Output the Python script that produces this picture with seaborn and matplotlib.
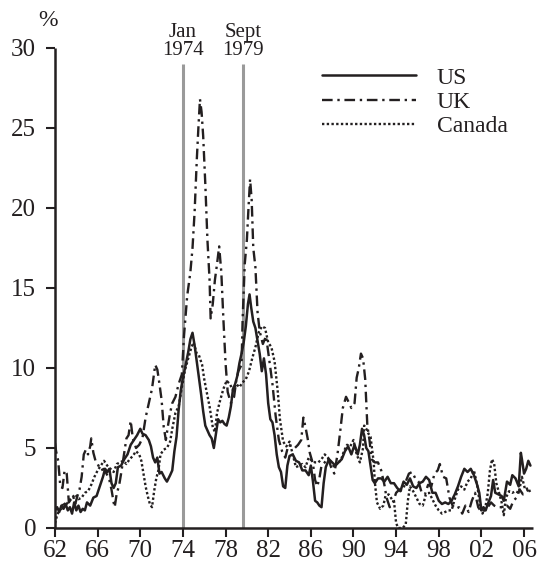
import matplotlib
matplotlib.use("Agg")
import matplotlib.pyplot as plt
import seaborn as sns
import pandas as pd

# ---------------- data ----------------
us_t = [1962.0,1962.2,1962.4,1962.6,1962.8,1963.0,1963.2,1963.4,1963.6,1963.8,1964.0,1964.2,1964.4,1964.6,1964.8,
        1965.0,1965.3,1965.6,1965.9,1966.2,1966.5,1966.7,1966.9,1967.1,1967.3,1967.5,1967.7,1967.9,1968.2,1968.5,
        1968.8,1969.1,1969.4,1969.7,1970.0,1970.2,1970.5,1970.8,1971.0,1971.2,1971.4,1971.6,1971.8,1972.0,1972.3,
        1972.5,1972.8,1973.0,1973.2,1973.4,1973.6,1973.8,1974.0,1974.2,1974.5,1974.7,1974.9,1975.1,1975.3,1975.5,
        1975.7,1975.9,1976.1,1976.3,1976.5,1976.7,1976.9,1977.1,1977.3,1977.5,1977.7,1977.9,1978.1,1978.3,1978.5,
        1978.7,1978.9,1979.1,1979.3,1979.5,1979.7,1979.9,1980.1,1980.25,1980.4,1980.6,1980.8,1981.0,1981.2,1981.4,
        1981.6,1981.8,1982.0,1982.2,1982.4,1982.6,1982.8,1983.0,1983.2,1983.4,1983.6,1983.8,1984.0,1984.3,1984.6,
        1984.9,1985.2,1985.5,1985.8,1986.0,1986.2,1986.4,1986.6,1986.8,1987.0,1987.2,1987.4,1987.7,1988.0,1988.3,
        1988.6,1988.9,1989.2,1989.5,1989.8,1990.1,1990.4,1990.6,1990.8,1991.0,1991.2,1991.4,1991.6,1991.8,1992.0,
        1992.3,1992.6,1992.9,1993.2,1993.5,1993.8,1994.1,1994.4,1994.7,1995.0,1995.3,1995.6,1995.9,1996.2,1996.5,
        1996.8,1997.1,1997.4,1997.7,1998.0,1998.3,1998.6,1998.9,1999.2,1999.5,1999.8,2000.1,2000.4,2000.7,2001.0,
        2001.3,2001.6,2001.8,2002.0,2002.2,2002.4,2002.6,2002.9,2003.1,2003.3,2003.6,2003.9,2004.1,2004.4,2004.7,
        2004.9,2005.2,2005.5,2005.7,2005.8,2006.0,2006.2,2006.4,2006.6]
us_v = [1.1,1.3,1.0,1.4,1.2,1.5,1.1,1.3,0.9,1.6,1.1,1.4,1.0,1.2,1.1,
        1.6,1.4,1.9,2.0,2.6,3.2,3.7,3.5,3.7,2.8,2.5,2.8,3.8,3.9,4.3,
        4.6,5.2,5.5,5.8,6.2,5.9,5.8,5.5,5.1,4.4,4.1,4.4,3.4,3.5,3.1,
        2.9,3.3,3.6,4.8,5.7,7.4,8.6,9.4,10.0,11.0,11.8,12.2,11.4,10.4,9.4,
        8.4,7.3,6.4,6.1,5.8,5.6,5.0,5.9,6.8,6.6,6.7,6.5,6.4,6.9,7.6,
        8.7,9.0,9.5,10.3,10.9,11.6,12.6,14.0,14.6,13.8,12.9,12.5,11.7,10.9,9.8,
        10.6,9.6,7.8,6.8,6.6,5.8,4.6,3.8,3.5,2.6,2.5,3.9,4.5,4.6,4.2,
        4.1,3.6,3.6,3.3,3.9,2.9,1.7,1.6,1.4,1.3,2.8,3.8,4.3,4.1,3.9,
        4.1,4.3,4.8,5.1,4.6,5.2,4.6,5.2,6.2,5.8,5.0,4.8,3.9,3.0,2.8,
        3.1,3.1,2.9,3.2,2.8,2.8,2.5,2.3,2.9,2.7,3.1,2.6,2.5,2.8,2.9,
        3.2,3.0,2.2,2.2,1.7,1.5,1.6,1.5,1.7,2.1,2.6,3.2,3.7,3.5,3.7,
        3.3,2.7,2.2,1.1,1.3,1.1,1.5,2.0,3.0,2.2,2.1,2.0,1.7,2.9,2.7,
        3.3,3.1,2.6,4.7,4.3,3.4,3.7,4.2,3.9]

uk_t = [1962.0,1962.1,1962.3,1962.5,1962.7,1962.9,1963.1,1963.3,1963.5,1963.7,1963.9,1964.1,1964.3,1964.5,1964.7,
        1964.9,1965.1,1965.3,1965.4,1965.6,1965.8,1966.0,1966.3,1966.6,1966.9,1967.1,1967.3,1967.5,1967.6,1967.8,
        1968.0,1968.2,1968.5,1968.7,1968.9,1969.1,1969.3,1969.6,1969.9,1970.2,1970.5,1970.8,1971.1,1971.4,1971.6,
        1971.8,1972.0,1972.2,1972.4,1972.6,1972.8,1973.0,1973.3,1973.6,1973.9,1974.1,1974.4,1974.7,1974.9,1975.1,
        1975.3,1975.45,1975.6,1975.75,1975.9,1976.1,1976.3,1976.5,1976.6,1976.8,1977.0,1977.2,1977.4,1977.6,1977.8,
        1978.0,1978.2,1978.5,1978.8,1979.0,1979.2,1979.5,1979.6,1979.8,1980.0,1980.15,1980.3,1980.45,1980.6,1980.8,
        1981.0,1981.2,1981.5,1981.8,1982.1,1982.4,1982.7,1983.0,1983.3,1983.6,1983.9,1984.2,1984.5,1984.8,1985.1,
        1985.3,1985.5,1985.7,1985.9,1986.2,1986.4,1986.6,1986.8,1987.0,1987.3,1987.6,1987.9,1988.2,1988.5,1988.8,
        1989.0,1989.3,1989.6,1989.8,1990.1,1990.3,1990.5,1990.7,1990.9,1991.1,1991.3,1991.5,1991.7,1992.0,1992.3,
        1992.6,1992.9,1993.1,1993.4,1993.7,1994.0,1994.3,1994.6,1994.9,1995.2,1995.5,1995.8,1996.1,1996.4,1996.7,
        1997.0,1997.3,1997.6,1997.9,1998.1,1998.4,1998.7,1999.0,1999.3,1999.6,1999.9,2000.2,2000.5,2000.8,2001.1,
        2001.4,2001.7,2002.0,2002.3,2002.6,2002.9,2003.2,2003.5,2003.8,2004.1,2004.4,2004.7,2005.0,2005.3,2005.6,
        2005.9,2006.2,2006.6]
uk_v = [5.3,4.8,4.2,2.6,2.5,3.6,3.4,1.6,1.8,2.0,1.5,2.0,2.4,3.2,4.6,
        4.9,4.6,5.1,5.6,4.7,4.2,4.0,3.6,3.7,3.3,3.0,2.4,1.6,1.3,2.2,
        2.6,3.4,4.7,5.6,5.8,6.7,5.6,5.0,5.2,5.6,6.9,7.8,8.7,10.2,9.9,
        9.0,8.0,6.3,5.5,6.4,7.2,7.8,8.2,9.0,9.6,12.0,14.5,16.0,17.5,19.8,
        23.0,25.0,26.8,26.0,24.5,21.5,18.0,15.5,13.1,14.0,15.5,16.5,17.6,16.0,13.0,
        10.3,8.5,7.8,8.2,9.2,9.8,10.2,13.0,16.5,18.0,20.0,21.8,20.5,17.5,16.3,
        13.5,12.3,11.5,12.0,10.5,9.0,7.0,5.5,4.8,4.4,5.2,5.1,5.0,5.2,5.5,
        6.9,6.3,5.6,4.7,4.0,3.0,2.6,3.1,3.9,4.1,4.4,3.8,3.4,4.6,6.3,
        7.5,8.2,7.8,7.5,7.8,9.4,10.0,10.9,10.6,9.3,6.4,5.5,4.3,4.1,4.1,
        3.6,2.7,1.9,1.3,1.6,2.2,2.4,2.3,2.9,3.4,3.5,3.1,2.9,2.2,2.1,
        2.7,2.6,3.4,3.6,4.0,3.2,3.1,1.9,1.4,1.2,1.3,0.9,1.4,1.0,1.7,
        2.2,1.3,1.0,1.1,1.3,1.6,1.4,1.3,1.3,1.3,1.4,1.2,1.7,1.9,2.4,
        2.1,2.2,2.6]

ca_t = [1962.0,1962.2,1962.4,1962.6,1962.8,1963.0,1963.3,1963.6,1963.9,1964.2,1964.5,1964.8,1965.1,1965.4,1965.7,
        1966.0,1966.3,1966.6,1966.9,1967.2,1967.5,1967.8,1968.1,1968.4,1968.7,1969.0,1969.3,1969.6,1969.9,1970.1,
        1970.3,1970.5,1970.7,1970.9,1971.1,1971.3,1971.5,1971.7,1971.9,1972.2,1972.5,1972.8,1973.0,1973.3,1973.6,
        1973.9,1974.2,1974.5,1974.8,1975.0,1975.3,1975.5,1975.8,1976.0,1976.2,1976.5,1976.8,1977.0,1977.2,1977.5,
        1977.8,1978.1,1978.4,1978.7,1979.0,1979.3,1979.6,1979.9,1980.2,1980.5,1980.8,1981.1,1981.4,1981.7,1982.0,
        1982.3,1982.6,1982.9,1983.1,1983.4,1983.7,1984.0,1984.3,1984.6,1984.9,1985.2,1985.5,1985.8,1986.1,1986.4,
        1986.7,1987.0,1987.3,1987.6,1987.9,1988.2,1988.5,1988.8,1989.1,1989.4,1989.7,1990.0,1990.3,1990.6,1990.9,
        1991.0,1991.2,1991.4,1991.6,1991.9,1992.0,1992.2,1992.5,1992.8,1993.0,1993.3,1993.6,1993.8,1994.0,1994.2,
        1994.6,1994.9,1995.1,1995.3,1995.6,1995.9,1996.2,1996.5,1996.8,1997.1,1997.4,1997.7,1998.0,1998.3,1998.6,
        1998.9,1999.2,1999.5,1999.8,2000.1,2000.4,2000.7,2001.0,2001.3,2001.6,2001.9,2002.1,2002.4,2002.6,2002.8,
        2003.0,2003.2,2003.4,2003.7,2003.9,2004.1,2004.3,2004.6,2004.9,2005.2,2005.5,2005.8,2006.1,2006.4,2006.6]
ca_v = [0.3,0.8,1.1,1.2,1.6,1.4,1.7,1.9,2.1,1.8,1.9,2.2,2.3,2.7,3.2,
        3.6,3.9,4.2,3.9,3.7,3.5,4.0,4.1,4.2,4.0,4.3,4.5,4.8,4.6,4.2,
        3.4,2.6,2.0,1.5,1.3,2.3,3.1,3.6,4.6,4.9,5.0,5.4,6.2,7.2,7.6,
        8.8,9.9,10.6,11.3,11.6,10.9,10.8,10.2,9.3,8.6,7.6,6.3,6.0,7.2,8.0,
        8.7,9.2,9.0,8.6,9.0,8.8,9.1,9.3,9.8,10.6,11.3,12.2,12.6,12.5,11.6,
        11.3,10.4,8.5,6.8,5.4,5.1,5.4,4.6,3.8,3.9,4.0,3.8,4.4,4.2,4.1,
        4.1,4.3,4.6,4.4,4.1,3.8,4.1,4.2,4.8,5.2,5.1,5.5,4.6,4.1,5.0,
        6.4,6.2,5.9,5.7,4.1,2.9,1.6,1.2,1.4,2.0,2.1,1.8,1.7,0.3,0.0,
        0.0,0.2,1.7,2.6,2.3,1.9,1.5,1.4,2.1,2.2,1.8,1.4,1.1,0.9,1.0,
        1.1,1.1,1.8,2.4,2.6,2.4,2.9,3.1,3.6,2.7,1.3,0.9,1.4,2.2,3.6,
        4.3,4.0,2.8,2.1,1.6,0.8,1.9,2.3,2.2,2.3,2.2,3.2,2.4,2.5,2.2]

series_names = ["US", "UK", "Canada"]
x_ticks = list(range(1962, 2007, 4))
x_tick_labels = ["62", "66", "70", "74", "78", "82", "86", "90", "94", "98", "02", "06"]
y_ticks = [0, 5, 10, 15, 20, 25, 30]
events = [1974.0, 1979.67]
event_labels = ["Jan\n1974", "Sept\n1979"]

# ---------------- styling ----------------
sns.set_style("ticks")
plt.rcParams["font.family"] = ["Liberation Serif", "DejaVu Serif"]
plt.rcParams["text.color"] = "#231f20"

fig = plt.figure(figsize=(5.37, 5.62), dpi=100)
ax = fig.add_axes([55 / 537, 1 - 528 / 562, (533 - 55) / 537, (528 - 48) / 562])

df_us = pd.DataFrame({"year": us_t, "rate": us_v})
df_uk = pd.DataFrame({"year": uk_t, "rate": uk_v})
df_ca = pd.DataFrame({"year": ca_t, "rate": ca_v})

ink = "#231f20"
for ev in events:
    ax.plot([ev, ev], [0, 29], color="#9a9a9a", lw=2.2, zorder=1, solid_capstyle="butt")

sns.lineplot(data=df_us, x="year", y="rate", ax=ax, color=ink, lw=1.8,
             label=series_names[0], estimator=None, sort=False, zorder=3)
sns.lineplot(data=df_uk, x="year", y="rate", ax=ax, color=ink, lw=1.7,
             linestyle=(0, (4.5, 2, 1, 2)), label=series_names[1],
             estimator=None, sort=False, zorder=3)
sns.lineplot(data=df_ca, x="year", y="rate", ax=ax, color=ink, lw=1.7,
             linestyle=(0, (1, 1)), label=series_names[2],
             estimator=None, sort=False, zorder=3)

ax.set_xlim(1962, 1962 + (533 - 55) / 10.66)
ax.set_ylim(0, 30)
ax.set_xticks(x_ticks)
ax.set_xticklabels(x_tick_labels)
ax.set_yticks(y_ticks)
ax.set_xlabel("")
ax.set_ylabel("")
for s in ["top", "right"]:
    ax.spines[s].set_visible(False)
for s in ["left", "bottom"]:
    ax.spines[s].set_linewidth(1.8)
    ax.spines[s].set_color(ink)
    ax.spines[s].set_capstyle("butt")
ax.tick_params(axis="both", direction="out", length=6.5, width=1.5, color=ink,
               labelsize=18, labelcolor=ink)
ax.tick_params(axis="y", pad=7)
ax.tick_params(axis="x", pad=2)

leg = ax.legend(loc="upper left", bbox_to_anchor=((322 - 55) / 478, 1 - (67 - 48) / 480),
                frameon=False, fontsize=17, handlelength=4.0, handletextpad=0.85,
                labelspacing=0.12, borderaxespad=0, borderpad=0)
for t in leg.get_texts():
    t.set_color(ink)

fig.text(48 / 537, 1 - 20 / 562, "%", ha="center", va="center", fontsize=17, color=ink)
for ev, lab in zip(events, event_labels):
    ax.annotate(lab, xy=(ev, 29), xytext=(0, 3), textcoords="offset points",
                ha="center", va="bottom", fontsize=15, color=ink, linespacing=0.95,
                annotation_clip=False)

fig.savefig("out.png", dpi=100)
